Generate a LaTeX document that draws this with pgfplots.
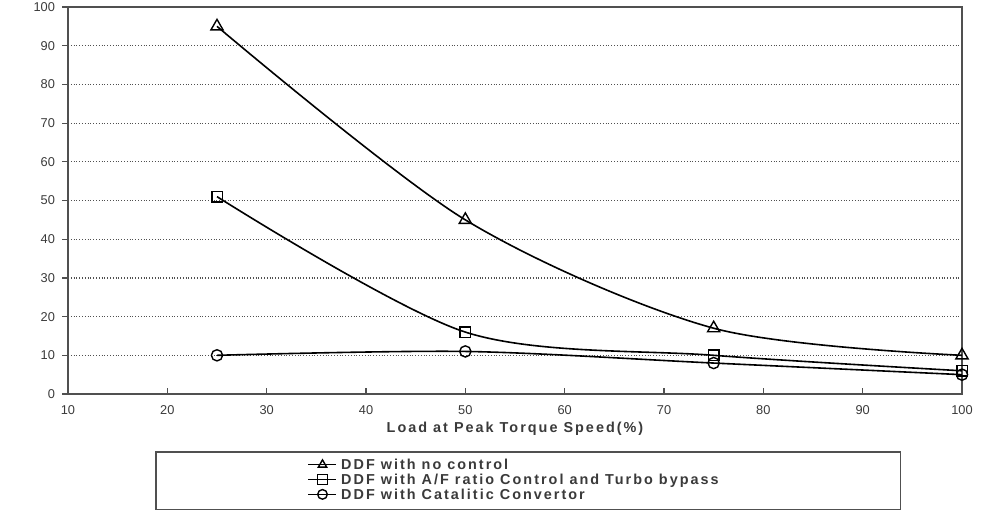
\documentclass[border=0pt]{standalone}
\usepackage{pgfplots}
\pgfplotsset{compat=1.18}
\usepackage{fontspec}
\setmainfont{Liberation Sans}
\newfontfamily\spaced[LetterSpace=14]{Liberation Sans}
\definecolor{axgray}{HTML}{505050}
\definecolor{txtgray}{HTML}{3A3A3A}
\begin{document}
\begin{tikzpicture}
\path[use as bounding box] (-34pt,-58.5pt) rectangle (457.5pt,197pt);
\begin{axis}[
    scale only axis,
    width=447pt,
    height=193.5pt,
    xmin=10, xmax=100,
    ymin=0, ymax=100,
    xtick={10,20,...,100},
    ytick={0,10,...,100},
    xtick pos=bottom,
    ytick pos=left,
    ymajorgrids=true,
    grid style={densely dotted, axgray, line width=0.6pt},
    axis line style={axgray, line width=0.8pt},
    tick style={axgray, line width=0.6pt},
    major tick length=3pt,
    ytick align=outside,
    xtick align=inside,
    /pgf/number format/assume math mode=true,
    ticklabel style={font=\fontsize{6.4}{7}\selectfont, text=txtgray},
    xticklabel style={yshift=-2pt},
    xlabel={\spaced\bfseries Load at Peak Torque Speed(\%)},
    xlabel style={font=\fontsize{7.2}{8}\selectfont, text=txtgray, yshift=3pt},
    legend style={
        at={(0.0973,-0.148)}, anchor=north west,
        draw=axgray, line width=0.8pt,
        inner xsep=76pt, inner ysep=3.2pt,
        font=\fontsize{7.2}{7.6}\selectfont\spaced\bfseries,
        text=txtgray,
        nodes={inner ysep=0.35pt},
        cells={anchor=west},
        row sep=0pt,
    },
    legend image code/.code={
        \draw[mark repeat=2, mark phase=2] plot coordinates {(0pt,0.6pt) (7pt,0.6pt) (14pt,0.6pt)};
    },
    legend image post style={line width=0.7pt, mark size=2.4pt},
    every axis plot/.append style={black, line width=0.8pt, smooth, tension=0.5},
    ]
\addplot[mark=triangle, mark size=3.5pt, mark options={solid, line width=0.7pt}] coordinates {
  (25,95) (50,45) (75,17) (100,10)
};
\addplot[mark=square, mark size=2.6pt, mark options={solid, line width=0.7pt}] coordinates {
  (25,51) (50,16) (75,10) (100,6)
};
\addplot[mark=o, mark size=2.8pt, mark options={solid, line width=0.7pt}] coordinates {
  (25,10) (50,11) (75,8) (100,5)
};
\legend{DDF with no control, DDF with A/F ratio Control and Turbo bypass\hspace*{13pt}, DDF with Catalitic Convertor}
\end{axis}
\end{tikzpicture}
\end{document}
